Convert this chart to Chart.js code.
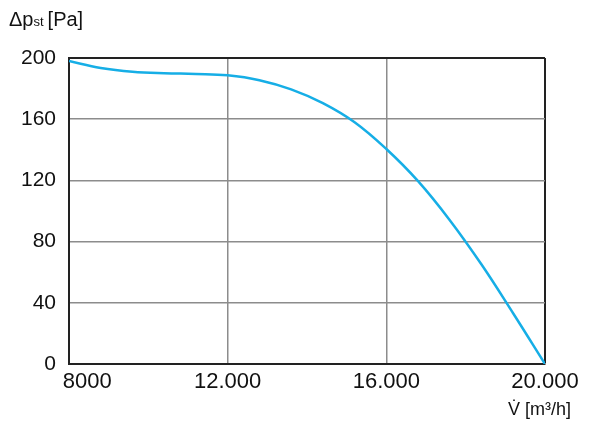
<!DOCTYPE html>
<html>
<head>
<meta charset="utf-8">
<script src="https://cdn.jsdelivr.net/npm/chart.js@4"></script>
<style>
  html, body { margin: 0; padding: 0; background: #fff; }
  #wrap { width: 600px; height: 424px; position: relative; }
</style>
</head>
<body>
<div id="wrap"><canvas id="fan-chart" width="600" height="424"></canvas></div>
<script>
// Fan curve: air flow [m3/h] vs static pressure [Pa]
const flowRates = [8000, 8800, 9600, 10400, 11200, 12000, 12800, 13600, 14400, 15200, 16000, 16800, 17600, 18400, 19200, 20000];
const pressures = [198, 193.5, 191, 190, 189.6, 188.7, 185.5, 179.5, 170.5, 158, 140.5, 119.5, 94, 65, 33, 0];

const xTicks = [8000, 12000, 16000, 20000];
const yTicks = [0, 40, 80, 120, 160, 200];

const FONT = "'Liberation Sans', Arial, sans-serif";
const GRID_GRAY = "#8c8c8c";
const FRAME = "#222";

// x labels use a dot as thousands separator, except the first one
function fmtFlow(v) {
  if (v === 8000) return "      8000";   // pushed right, clear of the y "0"
  const s = String(v);
  return s.slice(0, s.length - 3) + "." + s.slice(-3);
}

// axis titles sit outside the chart area, drawn by hand
const axisTitles = {
  id: "axisTitles",
  afterDraw(chart) {
    const ctx = chart.ctx;
    ctx.save();
    ctx.fillStyle = "#111";
    ctx.textBaseline = "alphabetic";
    ctx.textAlign = "left";

    // Δp_st [Pa]
    let x = 9, y = 26;
    ctx.font = "20px " + FONT;
    ctx.fillText("Δp", x, y);
    x += ctx.measureText("Δp").width;
    ctx.font = "13px " + FONT;
    ctx.fillText("st", x, y);
    x += ctx.measureText("st").width + 4;
    ctx.font = "20px " + FONT;
    ctx.fillText("[Pa]", x, y);

    // V̇ [m³/h]
    ctx.textAlign = "right";
    ctx.font = "18px " + FONT;
    ctx.fillText("V̇ [m³/h]", 571, 415);
    ctx.restore();
  }
};

const points = flowRates.map((f, i) => ({ x: f, y: pressures[i] }));

new Chart(document.getElementById("fan-chart"), {
  type: "line",
  data: {
    datasets: [{
      data: points,
      borderColor: "#16aee6",
      borderWidth: 2.5,
      pointRadius: 0,
      fill: false,
      tension: 0.4
    }]
  },
  options: {
    responsive: false,
    animation: false,
    layout: { padding: { top: 58, right: 55, left: 0, bottom: 0 } },
    plugins: { legend: { display: false }, tooltip: { enabled: false } },
    scales: {
      x: {
        type: "linear",
        min: 8000, max: 20000,
        afterBuildTicks: (s) => { s.ticks = xTicks.map(v => ({ value: v })); },
        afterFit: (s) => { s.height = 60; },
        grid: {
          drawTicks: false,
          color: (c) => (c.tick && c.tick.value === 20000 ? FRAME : GRID_GRAY),
          lineWidth: (c) => (c.tick && c.tick.value === 20000 ? 2 : 1.5)
        },
        border: { color: FRAME, width: 2 },
        ticks: {
          padding: 5,
          maxRotation: 0,
          autoSkip: false,
          color: "#111",
          font: { family: FONT, size: 22 },
          callback: fmtFlow
        }
      },
      y: {
        min: 0, max: 200,
        afterBuildTicks: (s) => { s.ticks = yTicks.map(v => ({ value: v })); },
        afterFit: (s) => { s.width = 69; },
        grid: {
          drawTicks: false,
          color: (c) => (c.tick && c.tick.value === 200 ? FRAME : GRID_GRAY),
          lineWidth: (c) => (c.tick && c.tick.value === 200 ? 2 : 1.5)
        },
        border: { color: FRAME, width: 2 },
        ticks: {
          padding: 13,
          color: "#111",
          font: { family: FONT, size: 21 }
        }
      }
    }
  },
  plugins: [axisTitles]
});
</script>
</body>
</html>
